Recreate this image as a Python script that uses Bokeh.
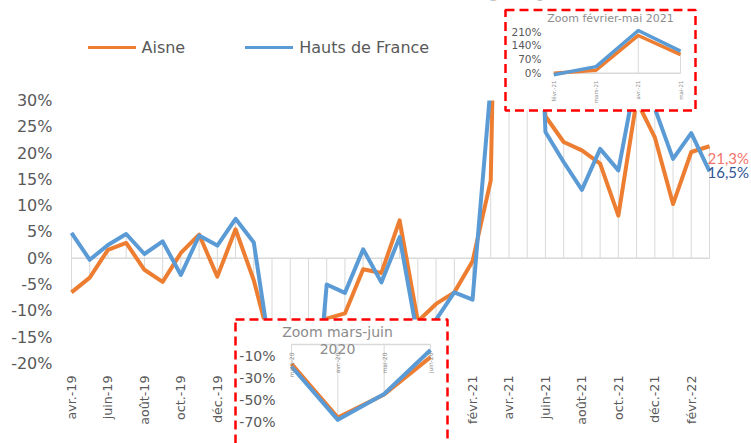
import math
from bokeh.plotting import figure
from bokeh.models import Range1d, Legend, LegendItem
from bokeh.core.properties import value
from bokeh.embed import file_html
from bokeh.resources import INLINE

# ---------------- data ----------------
months = ["avr.-19", "mai-19", "juin-19", "juil.-19", "août-19", "sept.-19", "oct.-19",
          "nov.-19", "déc.-19", "janv.-20", "févr.-20", "mars-20", "avr.-20", "mai-20",
          "juin-20", "juil.-20", "août-20", "sept.-20", "oct.-20", "nov.-20", "déc.-20",
          "janv.-21", "févr.-21", "mars-21", "avr.-21", "mai-21", "juin-21", "juil.-21",
          "août-21", "sept.-21", "oct.-21", "nov.-21", "déc.-21", "janv.-22", "févr.-22",
          "mars-22"]
aisne = [-6.5, -3.7, 1.6, 2.9, -2.2, -4.5, 1.0, 4.5, -3.5, 5.5, -4.2, -17.5, -66.5, -45.5,
         -11.5, -10.5, -2.1, -2.8, 7.2, -12.0, -8.7, -6.5, -0.6, 14.8, 190.0, 94.0, 27.0,
         22.1, 20.5, 18.0, 8.1, 30.0, 23.0, 10.3, 20.2, 21.3]
hdf = [4.8, -0.3, 2.5, 4.6, 0.8, 3.2, -3.2, 4.3, 2.4, 7.5, 3.0, -20.0, -68.5, -45.0,
       -5.0, -6.6, 1.7, -4.6, 4.0, -15.2, -11.7, -6.5, -7.9, 33.0, 215.0, 111.0, 24.0,
       18.3, 13.0, 20.8, 16.7, 35.0, 28.5, 18.9, 23.8, 16.5]
series_names = ["Aisne", "Hauts de France"]
y_ticks = [30, 25, 20, 15, 10, 5, 0, -5, -10, -15, -20]
zoom1_idx = [22, 23, 24, 25]
zoom1_ticks = [210, 140, 70, 0]
zoom1_title = "Zoom février-mai 2021"
zoom2_idx = [11, 12, 13, 14]
zoom2_ticks = [-10, -30, -50, -70]
zoom2_title = ["Zoom mars-juin", "2020"]

# ---------------- style ----------------
ORANGE = "#ED7D31"
BLUE = "#5B9BD5"
GRID = "#D9D9D9"
LABEL = "#595959"
TITLE_GREY = "#8C8C8C"
RED = "#FF0000"
FONT = value("DejaVu Sans")

W, H, M = 751, 443, 0


def span(p0, v0, p1, v1, a, b):
    k = (v1 - v0) / (p1 - p0)
    return Range1d(v0 + (a - p0) * k, v0 + (b - p0) * k)


x_main = span(71, 0, 709, len(months) - 1, M, M + W)
y_main = span(257.7, 0, 100, 30, M + H, M)

p = figure(width=W, height=H, x_range=x_main, y_range=y_main, x_axis_type=None,
           y_axis_type=None, toolbar_location=None, output_backend="svg", min_border=0,
           title=None, outline_line_color=None, background_fill_color="white",
           border_fill_color="white")
p.extra_x_ranges = {
    "px": Range1d(M, M + W),
    "i1x": span(553.3, zoom1_idx[0], 680, zoom1_idx[-1], M, M + W),
    "i2x": span(291, zoom2_idx[0], 430, zoom2_idx[-1], M, M + W),
}
p.extra_y_ranges = {
    "py": Range1d(M + H, M),
    "i1y": span(72.7, 0, 31, 210, M + H, M),
    "i2y": span(344, 0, 421, -70, M + H, M),
}

idx = list(range(len(months)))
lo = [min(0, a, b) for a, b in zip(aisne, hdf)]
hi = [max(0, a, b) for a, b in zip(aisne, hdf)]

# drop lines + zero line
p.segment(x0=idx, y0=lo, x1=idx, y1=hi, line_color=GRID, line_width=1)
p.segment(x0=[idx[0]], y0=[0], x1=[idx[-1]], y1=[0], line_color=GRID, line_width=1.5)

# series
p.line(idx, aisne, line_color=ORANGE, line_width=4, line_join="round")
p.line(idx, hdf, line_color=BLUE, line_width=4, line_join="round")

# mask above the top of the value axis
p.quad(left=[x_main.start], right=[x_main.end], bottom=[max(y_ticks)], top=[y_main.end],
       fill_color="white", line_color=None)

# y tick labels
p.text(x=[52] * len(y_ticks), y=y_ticks, text=[f"{t}%" for t in y_ticks],
       x_range_name="px", text_align="right", text_baseline="middle",
       text_font=FONT, text_font_size="16px", text_color=LABEL)

# x tick labels
xt = idx[::2]
p.text(x=xt, y=[375] * len(xt), text=[months[i] for i in xt], y_range_name="py",
       angle=math.pi / 2, text_align="right", text_baseline="middle",
       text_font=FONT, text_font_size="12.7px", text_color=LABEL)


def fmt(v):
    return f"{v:.1f}".replace(".", ",") + "%"


p.text(x=[707, 707], y=[157.5, 171], text=[fmt(aisne[-1]), fmt(hdf[-1])],
       x_range_name="px", y_range_name="py", text_align="left", text_baseline="middle",
       text_font=value("Lato"), text_font_size="15px", text_color=["#F4736B", "#2F5597"])

# ---------------- inset 2 : mars-juin 2020 ----------------
p.quad(left=[235], right=[447], top=[319], bottom=[470], x_range_name="px",
       y_range_name="py", fill_color="white", line_color=RED, line_width=2.5,
       line_dash="9 5")
z2a = [aisne[i] for i in zoom2_idx]
z2b = [hdf[i] for i in zoom2_idx]
kw2 = dict(x_range_name="i2x", y_range_name="i2y")
p.segment(x0=[zoom2_idx[0]], y0=[0], x1=[zoom2_idx[-1]], y1=[0], line_color=GRID,
          line_width=1.5, **kw2)
p.segment(x0=zoom2_idx, y0=[min(a, b, 0) for a, b in zip(z2a, z2b)], x1=zoom2_idx,
          y1=[0] * 4, line_color=GRID, line_width=1, **kw2)
p.text(x=[337, 337], y=[331, 348], text=zoom2_title, x_range_name="px", y_range_name="py",
       text_align="center", text_baseline="middle", text_font=FONT,
       text_font_size="14px", text_color=TITLE_GREY)
p.line(zoom2_idx, z2a, line_color=ORANGE, line_width=4, line_join="round", **kw2)
p.line(zoom2_idx, z2b, line_color=BLUE, line_width=4, line_join="round", **kw2)
p.text(x=[275] * 4, y=zoom2_ticks, text=[f"{t}%" for t in zoom2_ticks],
       x_range_name="px", y_range_name="i2y", text_align="right", text_baseline="middle",
       text_font=FONT, text_font_size="14px", text_color=LABEL)
p.text(x=zoom2_idx, y=[352] * 4, text=[months[i] for i in zoom2_idx],
       x_range_name="i2x", y_range_name="py", angle=math.pi / 2, text_align="right",
       text_baseline="middle", text_font=FONT, text_font_size="6px", text_color=TITLE_GREY)

# ---------------- inset 1 : février-mai 2021 ----------------
p.quad(left=[505], right=[695], top=[9.5], bottom=[110], x_range_name="px",
       y_range_name="py", fill_color="white", line_color=RED, line_width=2.5,
       line_dash="9 5")
z1a = [aisne[i] for i in zoom1_idx]
z1b = [hdf[i] for i in zoom1_idx]
kw1 = dict(x_range_name="i1x", y_range_name="i1y")
p.segment(x0=[zoom1_idx[0]], y0=[0], x1=[zoom1_idx[-1]], y1=[0], line_color=GRID,
          line_width=1.5, **kw1)
p.segment(x0=zoom1_idx, y0=[0] * 4, x1=zoom1_idx, y1=[max(a, b, 0) for a, b in zip(z1a, z1b)],
          line_color=GRID, line_width=1, **kw1)
p.line(zoom1_idx, z1a, line_color=ORANGE, line_width=3.5, line_join="round", **kw1)
p.line(zoom1_idx, z1b, line_color=BLUE, line_width=3.5, line_join="round", **kw1)
p.text(x=[610], y=[18], text=[zoom1_title], x_range_name="px", y_range_name="py",
       text_align="center", text_baseline="middle", text_font=FONT,
       text_font_size="11px", text_color=TITLE_GREY)
p.text(x=[541] * 4, y=zoom1_ticks, text=[f"{t}%" for t in zoom1_ticks],
       x_range_name="px", y_range_name="i1y", text_align="right", text_baseline="middle",
       text_font=FONT, text_font_size="10.5px", text_color=LABEL)
p.text(x=zoom1_idx, y=[80] * 4, text=[months[i] for i in zoom1_idx],
       x_range_name="i1x", y_range_name="py", angle=math.pi / 2, text_align="right",
       text_baseline="middle", text_font=FONT, text_font_size="5.5px", text_color=TITLE_GREY)

# ---------------- legend ----------------
ra = p.line(x=[float("nan")], y=[float("nan")], line_color=ORANGE, line_width=3,
            line_cap="round")
rb = p.line(x=[float("nan")], y=[float("nan")], line_color=BLUE, line_width=3,
            line_cap="round")
legend = Legend(items=[LegendItem(label=series_names[0], renderers=[ra]),
                       LegendItem(label=series_names[1], renderers=[rb])],
                location=(87.5, H - 57), orientation="horizontal", glyph_width=48,
                glyph_height=20, label_height=20, label_standoff=6, spacing=60,
                padding=0, margin=0, border_line_color=None, background_fill_alpha=0,
                label_text_font="DejaVu Sans", label_text_font_size="16px",
                label_text_color=LABEL)
p.add_layout(legend)

open("out.html", "w").write(file_html(p, INLINE))
